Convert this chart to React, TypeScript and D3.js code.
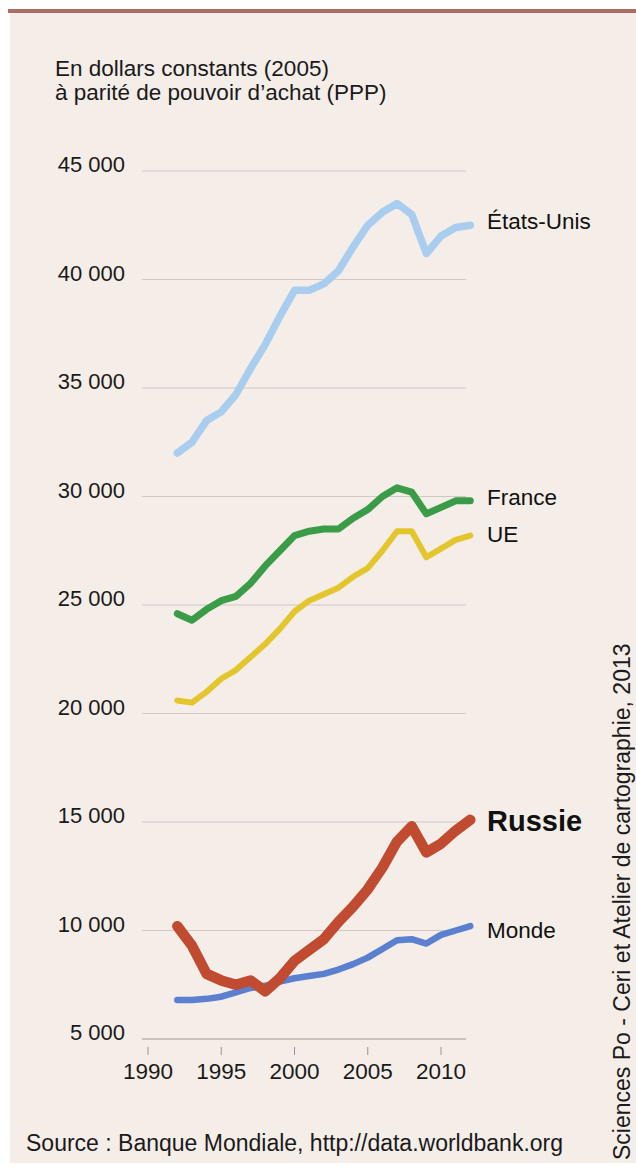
import React from "react";
import * as d3 from "d3";

const years = d3.range(1992, 2013);
const etatsUnis = [32000, 32500, 33500, 33900, 34700, 35900, 37000, 38300, 39500, 39500, 39800, 40400, 41500, 42500, 43100, 43500, 43000, 41200, 42000, 42400, 42500];
const france = [24600, 24300, 24800, 25200, 25400, 26000, 26800, 27500, 28200, 28400, 28500, 28500, 29000, 29400, 30000, 30400, 30200, 29200, 29500, 29800, 29800];
const ue = [20600, 20500, 21000, 21600, 22000, 22600, 23200, 23900, 24700, 25200, 25500, 25800, 26300, 26700, 27500, 28400, 28400, 27200, 27600, 28000, 28200];
const russie = [10200, 9300, 8000, 7700, 7500, 7700, 7200, 7800, 8600, 9100, 9600, 10400, 11100, 11900, 12900, 14100, 14800, 13600, 14000, 14600, 15100];
const monde = [6800, 6800, 6850, 6950, 7150, 7350, 7450, 7650, 7800, 7900, 8000, 8200, 8450, 8750, 9150, 9550, 9600, 9400, 9800, 10000, 10200];
const yTicks = [5000, 10000, 15000, 20000, 25000, 30000, 35000, 40000, 45000];
const xTicks = [1990, 1995, 2000, 2005, 2010];

const series = [
  { name: "États-Unis", values: etatsUnis, color: "#a9cdef", width: 7.5, bold: false, size: 22.5, labelValue: 42700 },
  { name: "France", values: france, color: "#3a9c47", width: 7, bold: false, size: 22.5, labelValue: 29950 },
  { name: "UE", values: ue, color: "#e3c62e", width: 6, bold: false, size: 22.5, labelValue: 28250 },
  { name: "Monde", values: monde, color: "#5b80cf", width: 6.5, bold: false, size: 22.5, labelValue: 10000 },
  { name: "Russie", values: russie, color: "#c14b31", width: 10.5, bold: true, size: 29, labelValue: 15050 },
];

const FONT = "'Liberation Sans', Arial, Helvetica, sans-serif";

export default function App() {
  const x = d3.scaleLinear().domain([1990, 2010]).range([148, 441]);
  const y = d3.scaleLinear().domain([5000, 45000]).range([1039, 171]);
  const line = d3
    .line<number>()
    .x((_, i) => x(years[i]))
    .y((d) => y(d))
    .curve(d3.curveLinear);

  return (
    <svg
      width={636}
      height={1167}
      style={{ position: "absolute", left: 0, top: 0, background: "#ffffff" }}
      fontFamily={FONT}
    >
      <rect x={10} y={12} width={626} height={1151} fill="#f5ede8" />
      <rect x={8} y={9} width={628} height={4} fill="#ab6c62" />

      <text x={55} y={76} fontSize={22.5} fill="#1a1a1a">En dollars constants (2005)</text>
      <text x={55} y={100} fontSize={22.5} fill="#1a1a1a">à parité de pouvoir d’achat (PPP)</text>

      {yTicks.map((t) => (
        <g key={t}>
          <line x1={142} x2={466} y1={y(t)} y2={y(t)} stroke={t === 5000 ? "#c9c2bd" : "#cfc8c3"} strokeWidth={t === 5000 ? 2 : 1.2} />
          <text x={125} y={y(t) + 1} textAnchor="end" fontSize={22} fill="#1a1a1a">
            {d3.format(",")(t).replace(",", " ")}
          </text>
        </g>
      ))}

      {xTicks.map((t) => (
        <g key={t}>
          <line x1={x(t)} x2={x(t)} y1={1047} y2={1055} stroke="#9a9490" strokeWidth={1} />
          <text x={x(t)} y={1079} textAnchor="middle" fontSize={22.5} fill="#1a1a1a">{t}</text>
        </g>
      ))}

      {series.map((s) => (
        <path
          key={s.name}
          d={line(s.values) || ""}
          fill="none"
          stroke={s.color}
          strokeWidth={s.width}
          strokeLinecap="round"
          strokeLinejoin="round"
        />
      ))}

      {series.map((s) => (
        <text
          key={s.name + "l"}
          x={487}
          y={y(s.labelValue)}
          dy="0.35em"
          fontSize={s.size}
          fontWeight={s.bold ? "bold" : "normal"}
          fill="#111"
        >
          {s.name}
        </text>
      ))}

      <text x={26} y={1151} fontSize={23} fill="#1a1a1a">Source : Banque Mondiale, http://data.worldbank.org</text>
      <text
        transform="translate(630,1160) rotate(-90)"
        fontSize={23}
        fill="#1a1a1a"
      >
        Sciences Po - Ceri et Atelier de cartographie, 2013
      </text>
    </svg>
  );
}
